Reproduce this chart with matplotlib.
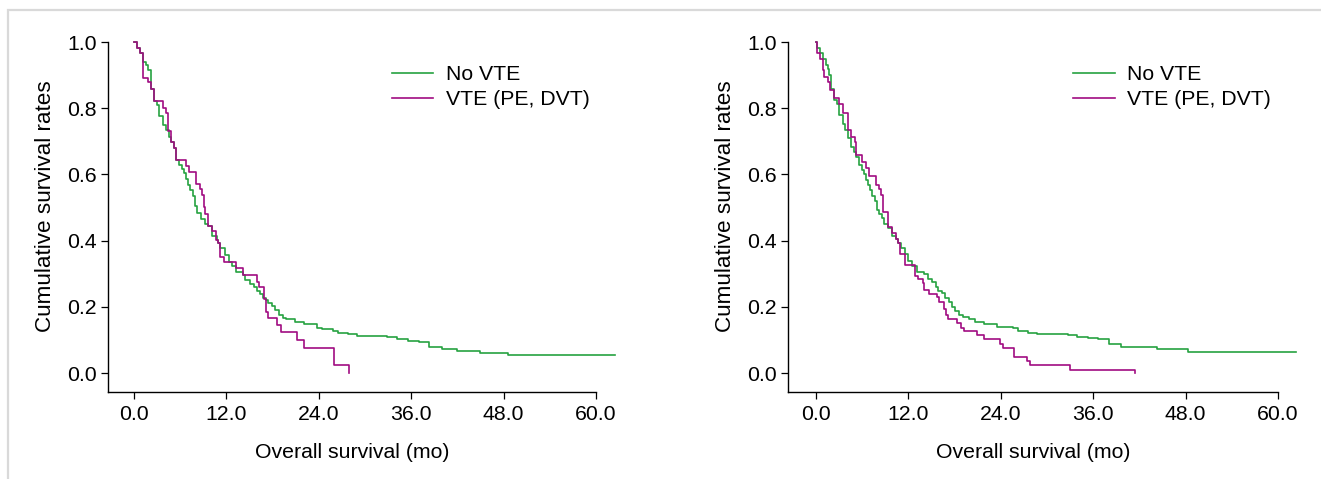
"""
Kaplan-Meier overall survival: No VTE vs VTE (PE, DVT), two cohorts
Output: out.png
"""

import matplotlib
matplotlib.use('Agg')
import matplotlib.pyplot as plt
from matplotlib.patches import Rectangle

plt.rcParams.update({
    'font.family': ['Liberation Sans', 'DejaVu Sans'],
    'font.size': 15.3,
    'axes.linewidth': 1.0,
    'xtick.major.width': 0.9,
    'ytick.major.width': 0.9,
    'xtick.major.size': 5,
    'ytick.major.size': 5,
})

GREEN = '#26A241'
MAGENTA = '#A10C82'

XTICKS = [0, 12, 24, 36, 48, 60]
YTICKS = [0.0, 0.2, 0.4, 0.6, 0.8, 1.0]
LABELS = ['No VTE', 'VTE (PE, DVT)']

# left panel, No VTE
left_novte_t = [0, 0.43, 0.78, 1.21, 1.5, 1.77, 2.16, 2.6, 2.94, 3.2, 3.77, 4.1, 4.5, 4.8,
                5.2, 5.45, 5.9, 6.2, 6.5, 6.75, 7.0, 7.27, 7.6, 7.95, 8.15, 8.7, 9.25, 9.6,
                10.09, 10.74, 10.95, 11.21, 11.82, 12.34, 12.68, 13.25, 14.11, 14.46,
                15.06, 15.58, 15.93, 16.36, 16.71, 17.1, 17.45, 17.97, 18.31, 18.83,
                19.39, 19.74, 20.91, 22.12, 23.72, 24.46, 25.89, 26.54, 27.75, 28.92,
                32.9, 34.1, 35.6, 37.0, 38.3, 40.0, 42.0, 44.9, 48.6, 62.5]
left_novte_s = [1.0, 0.981, 0.968, 0.940, 0.930, 0.915, 0.857, 0.823, 0.809, 0.778, 0.750,
                0.734, 0.712, 0.698, 0.679, 0.644, 0.629, 0.615, 0.605, 0.587, 0.569,
                0.553, 0.536, 0.505, 0.485, 0.464, 0.451, 0.444, 0.414, 0.402, 0.392,
                0.379, 0.358, 0.336, 0.323, 0.306, 0.296, 0.281, 0.269, 0.259, 0.248,
                0.238, 0.226, 0.221, 0.213, 0.202, 0.190, 0.177, 0.167, 0.163, 0.153,
                0.148, 0.137, 0.132, 0.128, 0.122, 0.117, 0.113, 0.110, 0.103, 0.098,
                0.093, 0.079, 0.073, 0.068, 0.062, 0.055, 0.055]

# left panel, VTE
left_vte_t = [0, 0.43, 0.78, 1.21, 1.77, 2.16, 2.6, 3.8, 4.1, 4.37, 4.8, 5.2, 5.45, 6.7,
              7.14, 8.0, 8.57, 8.83, 9.05, 9.22, 9.65, 10.09, 10.65, 10.87, 11.21, 11.64,
              13.25, 14.11, 16.0, 16.28, 16.88, 17.1, 17.36, 18.6, 19.09, 21.2, 22.1,
              25.97, 27.96]
left_vte_s = [1.0, 0.981, 0.968, 0.892, 0.878, 0.857, 0.823, 0.800, 0.785, 0.732, 0.698,
              0.679, 0.644, 0.627, 0.607, 0.571, 0.556, 0.538, 0.502, 0.480, 0.444, 0.429,
              0.402, 0.392, 0.351, 0.335, 0.316, 0.296, 0.276, 0.259, 0.223, 0.185, 0.167,
              0.145, 0.125, 0.100, 0.076, 0.026, 0.0]

# right panel, No VTE
right_novte_t = [0, 0.17, 0.52, 0.95, 1.26, 1.52, 1.73, 1.90, 2.38, 2.68, 2.94, 3.51, 3.77,
                 4.11, 4.50, 4.94, 5.19, 5.63, 5.93, 6.23, 6.49, 6.75, 7.01, 7.32, 7.62,
                 7.97, 8.23, 8.53, 8.87, 9.31, 9.83, 10.39, 10.61, 11.04, 11.56, 11.99,
                 12.42, 13.07, 14.03, 14.5, 15.02, 15.58, 15.89, 16.32, 16.75, 17.32,
                 17.71, 18.05, 18.57, 19.13, 19.91, 20.65, 21.86, 23.46, 25.63, 26.28,
                 27.58, 28.66, 32.68, 33.85, 35.3, 36.67, 38.05, 39.6, 44.3, 48.35, 62.3]
right_novte_s = [1.0, 0.981, 0.968, 0.948, 0.930, 0.917, 0.900, 0.857, 0.825, 0.813, 0.779,
                 0.751, 0.734, 0.709, 0.682, 0.669, 0.653, 0.628, 0.613, 0.601, 0.583,
                 0.567, 0.553, 0.536, 0.521, 0.492, 0.480, 0.467, 0.449, 0.439, 0.414,
                 0.404, 0.392, 0.377, 0.359, 0.338, 0.324, 0.304, 0.299, 0.284, 0.274,
                 0.259, 0.248, 0.241, 0.226, 0.216, 0.200, 0.188, 0.175, 0.170, 0.162,
                 0.153, 0.148, 0.140, 0.135, 0.127, 0.120, 0.118, 0.115, 0.110, 0.105,
                 0.102, 0.089, 0.079, 0.073, 0.064, 0.064]

# right panel, VTE
right_vte_t = [0, 0.17, 0.52, 0.95, 1.08, 1.52, 1.82, 2.38, 3.03, 3.55, 4.11, 4.55, 5.06,
               5.19, 6.02, 6.45, 6.88, 7.75, 8.18, 8.44, 8.70, 9.35, 9.83, 10.39, 10.61,
               10.91, 11.56, 12.86, 13.2, 13.85, 14.07, 14.72, 15.76, 16.02, 16.67, 16.84,
               17.19, 18.35, 18.79, 19.22, 20.95, 21.82, 23.9, 24.33, 25.71, 27.36, 27.79,
               32.99, 41.43]
right_vte_s = [1.0, 0.968, 0.948, 0.915, 0.895, 0.880, 0.855, 0.830, 0.812, 0.786, 0.734,
               0.714, 0.699, 0.659, 0.638, 0.618, 0.596, 0.568, 0.555, 0.538, 0.487, 0.440,
               0.424, 0.405, 0.394, 0.360, 0.326, 0.293, 0.283, 0.271, 0.251, 0.238, 0.230,
               0.215, 0.195, 0.175, 0.163, 0.150, 0.135, 0.127, 0.115, 0.102, 0.087, 0.075,
               0.050, 0.036, 0.024, 0.009, 0.0]

W, H = 1321, 479


def draw_panel(ax, novte_t, novte_s, vte_t, vte_s, xmin):
    ax.step(novte_t, novte_s, where='post', color=GREEN, lw=1.2, clip_on=False,
            label=LABELS[0])
    ax.step(vte_t, vte_s, where='post', color=MAGENTA, lw=1.2, clip_on=False,
            label=LABELS[1])

    ax.set_xlim(xmin, 60)
    ax.set_ylim(-0.057, 1.0)
    ax.set_xticks(XTICKS)
    ax.set_xticklabels([f'{v:.1f}' for v in XTICKS])
    ax.set_yticks(YTICKS)
    ax.set_yticklabels([f'{v:.1f}' for v in YTICKS])
    ax.tick_params(axis='x', pad=4)
    ax.tick_params(axis='y', pad=3)

    ax.spines['top'].set_visible(False)
    ax.spines['right'].set_visible(False)

    ax.set_xlabel('Overall survival (mo)')
    ax.set_ylabel('Cumulative survival rates', fontsize=16.2)
    ax.xaxis.set_label_coords(0.5, -0.147)
    ax.yaxis.set_label_coords(-0.107, 0.53)

    ax.legend(loc='upper left', bbox_to_anchor=(0.582, 0.934), frameon=False,
              borderaxespad=0, borderpad=0, handlelength=1.95, handletextpad=0.57,
              labelspacing=0.3)


def create_chart():
    fig = plt.figure(figsize=(W / 100, H / 100), dpi=100)

    ax1 = fig.add_axes([108 / W, 1 - 392 / H, 488 / W, 350 / H])
    ax2 = fig.add_axes([788 / W, 1 - 392 / H, 490 / W, 350 / H])

    draw_panel(ax1, left_novte_t, left_novte_s, left_vte_t, left_vte_s, -3.38)
    draw_panel(ax2, right_novte_t, right_novte_s, right_vte_t, right_vte_s, -3.64)

    # light gray page frame, cut at right/bottom
    fig.patches.append(Rectangle((8 / W, -0.1), 1.1, 1.1 - 10 / H,
                                 transform=fig.transFigure, fill=False,
                                 edgecolor='#d9d9d9', lw=1.6))

    fig.savefig('out.png', dpi=100)
    plt.close(fig)


if __name__ == '__main__':
    create_chart()
